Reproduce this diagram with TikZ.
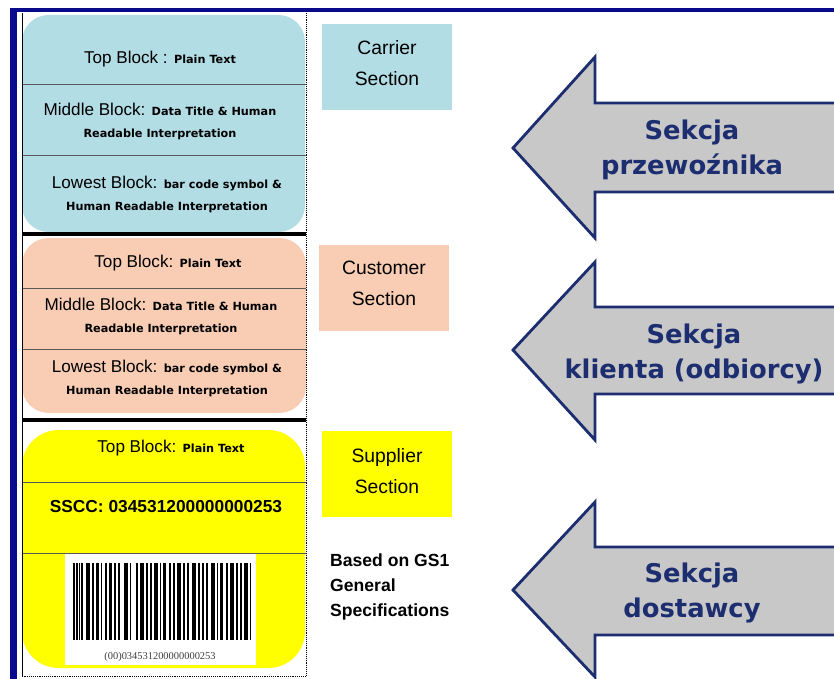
\documentclass[tikz,border=0pt]{standalone}
\usepackage{fontspec}
\setmainfont{Liberation Sans}
\newfontfamily\verdanafont{DejaVu Sans}
\newfontfamily\serialfont{Liberation Serif}
\usepackage{tikz}
\usetikzlibrary{positioning}

\definecolor{framenavy}{RGB}{10,10,140}
\definecolor{arrownavy}{RGB}{28,45,112}
\definecolor{arrowgray}{RGB}{200,200,200}
\definecolor{carrierblue}{RGB}{178,221,229}
\definecolor{customerpeach}{RGB}{248,205,180}
\definecolor{supplieryellow}{RGB}{255,255,0}

\newcommand{\blockbold}[1]{{\verdanafont\bfseries\fontsize{9.6}{12}\selectfont #1}}

\tikzset{
	blocktext/.style={align=center, inner sep=0pt, font=\fontsize{14.6}{18.8}\selectfont},
	sectbox/.style={inner sep=0pt, minimum width=39mm, minimum height=25.8mm},
	secttext/.style={align=center, inner sep=0pt, font=\fontsize{16.5}{26.5}\selectfont},
	arrowshape/.style={fill=arrowgray, draw=arrownavy, line width=2.4pt, line join=miter},
	arrowtext/.style={align=center, text=arrownavy, font=\verdanafont\bfseries\fontsize{22}{30}\selectfont},
	seprule/.style={draw=black!65, line width=0.6pt},
	thickrule/.style={draw=black, line width=2.6pt},
}

\begin{document}
\begin{tikzpicture}[x=0.3mm, y=-0.3mm]
		\clip (0,0) rectangle (834,679);
		\fill[white] (0,0) rectangle (834,679);
		
		\fill[carrierblue, rounded corners=8mm] (22,15) rectangle (305,232);
		\fill[customerpeach, rounded corners=8mm] (22,238) rectangle (306,413);
		\fill[supplieryellow, rounded corners=11mm] (22,430) rectangle (305,668);
		\fill[white] (65,553) rectangle (256,665);
		\foreach \x/\w in {73/1.5, 75.5/2, 78.5/1.5, 81/1.5, 85.5/4.5, 92/1.5, 95.5/3, 100.5/1.5, 105/2, 109/3, 114/1.5, 118/2, 124/3.5, 129.5/1.5, 135.5/2, 139.5/4, 146/1.5, 150/2, 154/3.5, 159.5/1.5, 163/2.5, 169/1.5, 173/2, 177/3.5, 183/1.5, 187/2, 192/3.5, 198/1.5, 202/1.5, 205.5/2.5, 211/3.5, 216.5/1.5, 220/2.5, 226/1.5, 230/3.5, 236/1.5, 240/2, 244/4, 249.5/1.5}
			\fill[black] (\x,563) rectangle (\x+\w,640);
		
		\foreach \y in {84,155,288,349,482,553}
			\draw[seprule] (22,\y) -- (306,\y);
		\draw[thickrule] (22,234) -- (306,234);
		\draw[thickrule] (22,420) -- (306,420);
		\draw[black, line width=0.6pt] (22,13) -- (22,676);
		\draw[black, line width=0.6pt, densely dotted] (306,13) -- (306,676) -- (22,676);
		
		\fill[framenavy] (10,8) rectangle (834,12);
		\fill[framenavy] (10,8) rectangle (17,679);
		
		\node (carriertop) [blocktext] at (160,59) {Top Block : \blockbold{Plain Text}};
		\node (carriermid) [blocktext] at (160,121) {Middle Block: \blockbold{Data Title \& Human}\\ \blockbold{Readable Interpretation}};
		\node (carrierlow) [blocktext] at (167,194) {Lowest Block: \blockbold{bar code symbol \&}\\ \blockbold{Human Readable Interpretation}};
		
		\node (customertop) [blocktext] at (168,263) {Top Block: \blockbold{Plain Text}};
		\node (customermid) [blocktext] at (161,316) {Middle Block: \blockbold{Data Title \& Human}\\ \blockbold{Readable Interpretation}};
		\node (customerlow) [blocktext] at (167,378) {Lowest Block: \blockbold{bar code symbol \&}\\ \blockbold{Human Readable Interpretation}};
		
		\node (suppliertop) [blocktext] at (171,448) {Top Block: \blockbold{Plain Text}};
		\node (sscc) [blocktext, font=\bfseries\fontsize{14.8}{18}\selectfont] at (166,507) {SSCC: 034531200000000253};
		\node (serial) [inner sep=0pt, font=\serialfont\fontsize{8.9}{10}\selectfont, text=black!75] at (160,657) {(00)034531200000000253};
		
		\node (carriersect) [sectbox, fill=carrierblue] at (387,67) {};
		\node (carriersecttext) [secttext] at ([yshift=1.3mm]carriersect.center) {Carrier\\Section};
		\node (customersect) [sectbox, fill=customerpeach] at (384,288) {};
		\node (customersecttext) [secttext] at ([yshift=1.3mm]customersect.center) {Customer\\Section};
		\node (suppliersect) [sectbox, fill=supplieryellow] at (387,474) {};
		\node (suppliersecttext) [secttext] at ([yshift=0.8mm]suppliersect.center) {Supplier\\Section};
		\node (gs1note) [anchor=west, align=left, inner sep=0pt, font=\bfseries\fontsize{15}{21.3}\selectfont] at (330,587) {Based on GS1\\General\\Specifications};
		
		\draw[arrowshape] (513,148) -- (595,57) -- (595,103) -- (850,103) -- (850,192) -- (595,192) -- (595,238) -- cycle;
		\node (carrierarrow) [arrowtext] at (692,150) {Sekcja\\przewoźnika};
		\draw[arrowshape] (513,350) -- (595,262) -- (595,307) -- (850,307) -- (850,394) -- (595,394) -- (595,440) -- cycle;
		\node (customerarrow) [arrowtext] at (694,354) {Sekcja\\klienta (odbiorcy)};
		\draw[arrowshape] (513,590) -- (595,502) -- (595,547) -- (850,547) -- (850,635) -- (595,635) -- (595,677) -- cycle;
		\node (supplierarrow) [arrowtext] at (692,593) {Sekcja\\dostawcy};
		
\end{tikzpicture}
\end{document}
